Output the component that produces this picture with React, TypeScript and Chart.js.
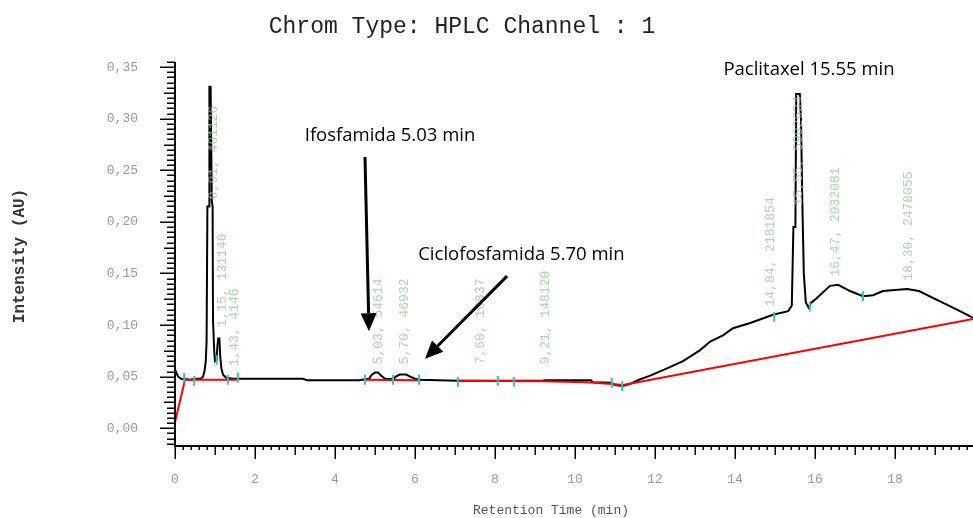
import { useEffect, useRef } from 'react';
import { Chart, registerables } from 'chart.js';

Chart.register(...registerables);

// ---------- DATA ----------
const chartTitle = 'Chrom Type: HPLC Channel : 1';
const xAxisTitle = 'Retention Time (min)';
const yAxisTitle = 'Intensity (AU)';

const xTickValues = [0, 2, 4, 6, 8, 10, 12, 14, 16, 18];
const yTickValues = [0, 0.05, 0.1, 0.15, 0.2, 0.25, 0.3, 0.35];

const traceTime = [
  0.0, 0.04, 0.08, 0.15, 0.4, 0.5, 0.65, 0.7, 0.74, 0.77, 0.79, 0.81, 0.85, 0.86, 0.89, 0.92, 0.94, 0.95,
  0.98, 1.0, 1.04, 1.06, 1.08, 1.11, 1.13, 1.16, 1.2, 1.28, 1.45, 1.7, 3.2, 3.3, 4.6, 4.85, 4.92, 5.0,
  5.08, 5.15, 5.25, 5.45, 5.52, 5.62, 5.78, 5.88, 6.0, 6.1, 7.07, 9.2, 9.25, 10.4, 10.45, 10.9, 11.0,
  11.2, 11.38, 11.6, 11.88, 12.3, 12.7, 13.12, 13.38, 13.7, 13.95, 14.38, 14.95, 15.33, 15.42, 15.46,
  15.51, 15.53, 15.62, 15.65, 15.68, 15.72, 15.77, 15.84, 15.9, 16.04, 16.375, 16.58, 16.875, 17.2,
  17.45, 17.7, 18.3, 18.6, 19.1, 19.55, 19.95,
];
const traceIntensity = [
  0.057, 0.053, 0.05, 0.048, 0.047, 0.048, 0.048, 0.05, 0.056, 0.065, 0.085, 0.215, 0.215, 0.331, 0.331,
  0.22, 0.215, 0.105, 0.075, 0.065, 0.066, 0.08, 0.087, 0.087, 0.07, 0.058, 0.052, 0.049, 0.048, 0.048,
  0.048, 0.0465, 0.0465, 0.048, 0.052, 0.054, 0.054, 0.051, 0.048, 0.0475, 0.05, 0.052, 0.052, 0.05,
  0.048, 0.047, 0.046, 0.046, 0.0465, 0.0465, 0.0445, 0.044, 0.042, 0.041, 0.043, 0.047, 0.051, 0.058,
  0.065, 0.0755, 0.084, 0.09, 0.097, 0.102, 0.11, 0.1135, 0.119, 0.195, 0.195, 0.324, 0.324, 0.3, 0.225,
  0.15, 0.122, 0.117, 0.1215, 0.126, 0.138, 0.139, 0.133, 0.128, 0.129, 0.133, 0.135, 0.133, 0.1235,
  0.115, 0.107,
];

// baseline segments (null = gap)
const baselineTime = [0.0, 0.25, 1.57, 1.6, 4.75, 6.1, 6.5, 7.07, 9.2, 10.3, 10.92, 11.2, 19.95];
const baselineIntensity = [0.006, 0.047, 0.047, null, 0.047, 0.0465, null, 0.046, 0.0455, 0.0445, 0.043, 0.042, 0.106];

// integration event markers
const markerTime = [0.23, 0.48, 1.04, 1.32, 1.57, 4.75, 5.45, 6.1, 7.07, 8.07, 8.47, 10.92, 11.18, 14.98, 15.87, 17.2];
const markerIntensity = [0.049, 0.046, 0.066, 0.047, 0.049, 0.047, 0.047, 0.047, 0.045, 0.046, 0.045, 0.044, 0.041, 0.108, 0.118, 0.128];

// peak labels: retention time, area
const peakLabelTime = [0.91, 1.15, 1.43, 5.03, 5.7, 7.6, 9.21, 14.84, 15.55, 16.47, 18.3];
const peakLabelAnchor = [0.222, 0.098, 0.06, 0.062, 0.062, 0.062, 0.062, 0.118, 0.216, 0.147, 0.143];
const peakLabelText = [
  '0,91, 401126', '1,15, 131140', '1,43, 4146', '5,03, 54614', '5,70, 46932', '7,60, 10837',
  '9,21, 148120', '14,84, 2181854', '15,55, 5902634', '16,47, 2032081', '18,30, 2478055',
];

// annotations (text in data coordinates)
const noteText = ['Paclitaxel 15.55 min', 'Ifosfamida 5.03 min', 'Ciclofosfamida 5.70 min'];
const noteTime = [15.85, 5.375, 8.66];
const noteIntensity = [0.3475, 0.284, 0.168];
// arrows: start -> tip
const arrowStartTime = [4.75, 8.3];
const arrowStartIntensity = [0.263, 0.1475];
const arrowTipTime = [4.85, 6.25];
const arrowTipIntensity = [0.094, 0.0673];

const MONO = '"Liberation Mono", "DejaVu Sans Mono", monospace';

const decorPlugin = {
  id: 'decor',
  afterDatasetsDraw(chart: any) {
    const { ctx } = chart;
    const xs = chart.scales.x;
    const ys = chart.scales.y;
    ctx.save();
    ctx.fillStyle = 'rgba(150,205,150,0.8)';
    ctx.font = `13px ${MONO}`;
    ctx.textAlign = 'left';
    ctx.textBaseline = 'middle';
    peakLabelText.forEach((t, i) => {
      const x = xs.getPixelForValue(peakLabelTime[i]) + 2;
      const y = ys.getPixelForValue(peakLabelAnchor[i]);
      ctx.save();
      ctx.translate(x, y);
      ctx.rotate(-Math.PI / 2);
      ctx.fillText(t, 0, 0);
      ctx.restore();
    });
    ctx.restore();
  },
  afterDraw(chart: any) {
    const { ctx, chartArea } = chart;
    const xs = chart.scales.x;
    const ys = chart.scales.y;
    const { left, right, top, bottom } = chartArea;
    ctx.save();
    // axes
    ctx.strokeStyle = '#000';
    ctx.lineWidth = 2;
    ctx.beginPath();
    ctx.moveTo(left, top);
    ctx.lineTo(left, bottom + 1);
    ctx.moveTo(left - 1, bottom);
    ctx.lineTo(right, bottom);
    ctx.stroke();
    // y ticks
    ctx.lineWidth = 1.5;
    ctx.beginPath();
    for (let i = -4; i <= 80; i++) {
      const v = i * 0.005;
      if (v < ys.min - 1e-9 || v > ys.max + 1e-9) continue;
      const y = Math.round(ys.getPixelForValue(v)) + 0.25;
      const len = i % 10 === 0 ? 15 : i % 5 === 0 ? 11 : 8;
      ctx.moveTo(left - len, y);
      ctx.lineTo(left, y);
    }
    // x ticks
    for (let i = 0; i * 0.2 <= xs.max + 1e-9; i++) {
      const x = Math.round(xs.getPixelForValue(i * 0.2)) + 0.25;
      const len = i % 10 === 0 ? 13 : i % 5 === 0 ? 9 : 4;
      ctx.moveTo(x, bottom);
      ctx.lineTo(x, bottom + len);
    }
    ctx.stroke();

    // title
    ctx.fillStyle = '#222';
    ctx.font = `23px ${MONO}`;
    ctx.textAlign = 'center';
    ctx.textBaseline = 'middle';
    ctx.fillText(chartTitle, 462, 27);

    // x title
    ctx.fillStyle = '#555';
    ctx.font = `13px ${MONO}`;
    ctx.fillText(xAxisTitle, 551, 511);

    // y title
    ctx.save();
    ctx.translate(20, 256);
    ctx.rotate(-Math.PI / 2);
    ctx.fillStyle = '#333';
    ctx.font = `bold 16px ${MONO}`;
    ctx.fillText(yAxisTitle, 0, 0);
    ctx.restore();

    // notes
    ctx.fillStyle = '#000';
    ctx.font = '18.5px "Open Sans", "Noto Sans", sans-serif';
    noteText.forEach((t, i) => {
      ctx.fillText(t, xs.getPixelForValue(noteTime[i]), ys.getPixelForValue(noteIntensity[i]));
    });

    // arrows
    arrowStartTime.forEach((_, i) => {
      const x0 = xs.getPixelForValue(arrowStartTime[i]);
      const y0 = ys.getPixelForValue(arrowStartIntensity[i]);
      const x1 = xs.getPixelForValue(arrowTipTime[i]);
      const y1 = ys.getPixelForValue(arrowTipIntensity[i]);
      const ang = Math.atan2(y1 - y0, x1 - x0);
      const headLen = 18;
      const headW = 8;
      const bx = x1 - headLen * Math.cos(ang);
      const by = y1 - headLen * Math.sin(ang);
      ctx.strokeStyle = '#000';
      ctx.lineWidth = 3;
      ctx.beginPath();
      ctx.moveTo(x0, y0);
      ctx.lineTo(bx, by);
      ctx.stroke();
      ctx.beginPath();
      ctx.moveTo(x1, y1);
      ctx.lineTo(bx + headW * Math.sin(ang), by - headW * Math.cos(ang));
      ctx.lineTo(bx - headW * Math.sin(ang), by + headW * Math.cos(ang));
      ctx.closePath();
      ctx.fill();
    });
    ctx.restore();
  },
};

export default function App() {
  const ref = useRef<HTMLCanvasElement>(null);
  useEffect(() => {
    if (!ref.current) return;
    const chart = new Chart(ref.current, {
      type: 'line',
      data: {
        datasets: [
          {
            label: 'markers',
            data: markerTime.map((t, i) => ({ x: t, y: markerIntensity[i] })),
            showLine: false,
            pointStyle: 'line',
            rotation: 90,
            pointRadius: 5,
            borderColor: '#2ec4c4',
            pointBorderWidth: 2,
            borderWidth: 2,
          } as any,
          {
            label: 'baseline',
            data: baselineTime.map((t, i) => ({ x: t, y: baselineIntensity[i] })),
            borderColor: '#ff0000',
            borderWidth: 2,
            pointRadius: 0,
            spanGaps: false,
            tension: 0,
          },
          {
            label: 'trace',
            data: traceTime.map((t, i) => ({ x: t, y: traceIntensity[i] })),
            borderColor: '#000000',
            borderWidth: 2,
            pointRadius: 0,
            tension: 0,
          },
        ],
      },
      options: {
        animation: false,
        responsive: false,
        devicePixelRatio: 1,
        layout: { autoPadding: false, padding: { top: 62, left: 0, right: 0, bottom: 0 } },
        plugins: { legend: { display: false }, title: { display: false }, tooltip: { enabled: false } },
        scales: {
          x: {
            type: 'linear',
            min: 0,
            max: 19.95,
            grid: { display: false, drawTicks: false },
            border: { display: false },
            ticks: {
              padding: 26,
              color: '#999',
              font: { family: MONO, size: 13 },
              maxRotation: 0,
              autoSkip: false,
              callback: (v: any) => String(v),
            },
            afterBuildTicks: (s: any) => {
              s.ticks = xTickValues.map((v) => ({ value: v }));
            },
            afterFit: (s: any) => {
              s.height = 72;
            },
          },
          y: {
            type: 'linear',
            min: -0.0172,
            max: 0.355,
            grid: { display: false, drawTicks: false },
            border: { display: false },
            ticks: {
              padding: 37,
              color: '#999',
              font: { family: MONO, size: 13 },
              callback: (v: any) => Number(v).toFixed(2).replace('.', ','),
            },
            afterBuildTicks: (s: any) => {
              s.ticks = yTickValues.map((v) => ({ value: v }));
            },
            afterFit: (s: any) => {
              s.width = 175;
            },
          },
        },
      },
      plugins: [decorPlugin],
    });
    return () => chart.destroy();
  }, []);
  return (
    <div style={{ position: 'fixed', left: 0, top: 0, width: 973, height: 518, background: '#fff' }}>
      <canvas ref={ref} width={973} height={518} style={{ display: 'block' }} />
    </div>
  );
}
